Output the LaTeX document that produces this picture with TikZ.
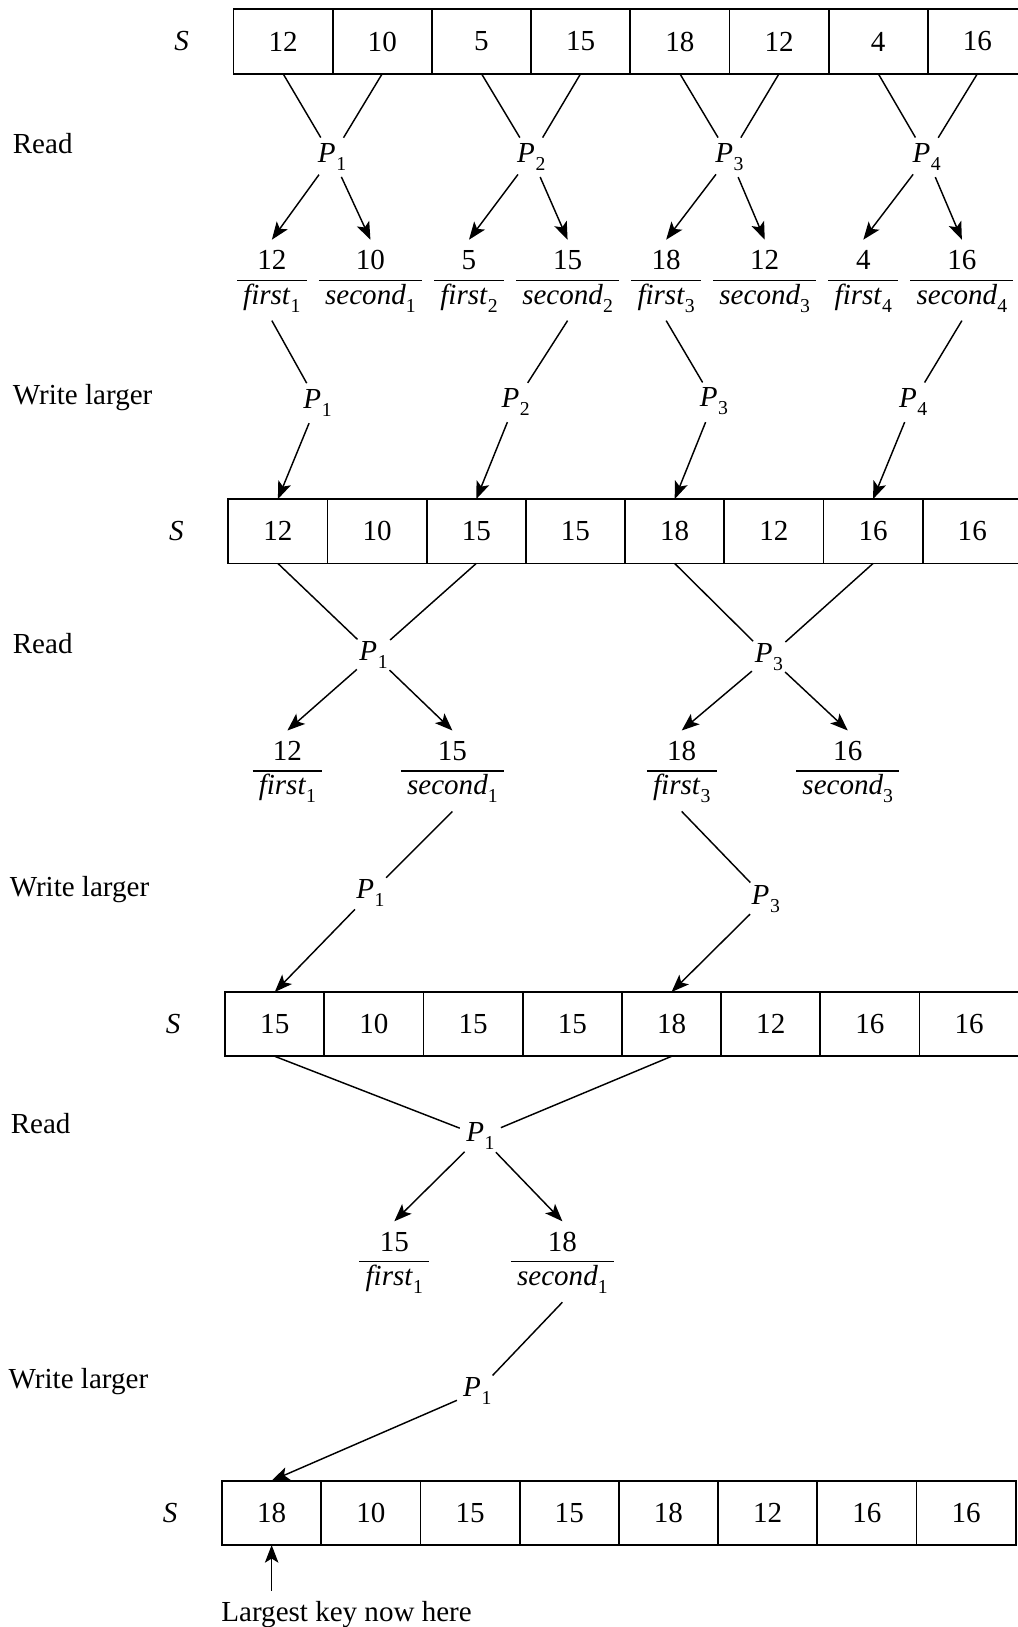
\documentclass[tikz,border=0pt]{standalone}
\usepackage{fontspec}
\setmainfont{Liberation Serif}
\usetikzlibrary{positioning, arrows.meta}
\newcommand{\lowidx}[1]{\raisebox{-0.6ex}{\fontsize{9.5}{9.5}\selectfont #1}}
\newcommand{\pname}[1]{\textit{P}\kern.3pt\lowidx{#1}}
\newcommand{\keyval}[3]{\begin{tabular}{@{\hspace{3pt}}c@{\hspace{3pt}}}#1\\\hline\textit{#2}\lowidx{#3}\end{tabular}}

\begin{document}
\begin{tikzpicture}[x=0.5pt, y=-0.5pt,
      font=\fontsize{14}{16}\selectfont,
      cell/.style={draw, line width=.9pt, minimum width=47.8pt,
                   minimum height=31pt, inner sep=0pt, outer sep=0pt},
      proc/.style={circle, inner sep=0pt, minimum size=21pt},
      key/.style={inner sep=3pt},
      phase/.style={anchor=west, inner sep=0pt},
      link/.style={line width=.7pt},
      push/.style={link, -{Stealth[length=8.5pt, width=6.5pt, inset=2pt]}},
      node distance=0pt]
    \useasboundingbox (0,0) rectangle (981,1568);
    \setlength{\arrayrulewidth}{.6pt}

    % array S, four times
    \node[cell, anchor=north west] (a1c1) at (225,9) {12};
    \node[cell, right=of a1c1] (a1c2) {10};
    \node[cell, right=of a1c2] (a1c3) {5};
    \node[cell, right=of a1c3] (a1c4) {15};
    \node[cell, right=of a1c4] (a1c5) {18};
    \node[cell, right=of a1c5] (a1c6) {12};
    \node[cell, right=of a1c6] (a1c7) {4};
    \node[cell, right=of a1c7] (a1c8) {16};
    \node[left=18pt of a1c1] (s1) {\textit{S}};

    \node[cell, anchor=north west] (a2c1) at (220,481) {12};
    \node[cell, right=of a2c1] (a2c2) {10};
    \node[cell, right=of a2c2] (a2c3) {15};
    \node[cell, right=of a2c3] (a2c4) {15};
    \node[cell, right=of a2c4] (a2c5) {18};
    \node[cell, right=of a2c5] (a2c6) {12};
    \node[cell, right=of a2c6] (a2c7) {16};
    \node[cell, right=of a2c7] (a2c8) {16};
    \node[left=18pt of a2c1] (s2) {\textit{S}};

    \node[cell, anchor=north west] (a3c1) at (217,956) {15};
    \node[cell, right=of a3c1] (a3c2) {10};
    \node[cell, right=of a3c2] (a3c3) {15};
    \node[cell, right=of a3c3] (a3c4) {15};
    \node[cell, right=of a3c4] (a3c5) {18};
    \node[cell, right=of a3c5] (a3c6) {12};
    \node[cell, right=of a3c6] (a3c7) {16};
    \node[cell, right=of a3c7] (a3c8) {16};
    \node[left=18pt of a3c1] (s3) {\textit{S}};

    \node[cell, anchor=north west] (a4c1) at (214,1427) {18};
    \node[cell, right=of a4c1] (a4c2) {10};
    \node[cell, right=of a4c2] (a4c3) {15};
    \node[cell, right=of a4c3] (a4c4) {15};
    \node[cell, right=of a4c4] (a4c5) {18};
    \node[cell, right=of a4c5] (a4c6) {12};
    \node[cell, right=of a4c6] (a4c7) {16};
    \node[cell, right=of a4c7] (a4c8) {16};
    \node[left=18pt of a4c1] (s4) {\textit{S}};

    % phases
    \node[phase] (read1)  at (12,138)  {Read};
    \node[phase] (write1) at (12,383)  {Write larger};
    \node[phase] (read2)  at (12,620)  {Read};
    \node[phase] (write2) at (9,857)   {Write larger};
    \node[phase] (read3)  at (10,1083) {Read};
    \node[phase] (write3) at (8,1331)  {Write larger};

    % processors
    \node[proc] (r1p1) at (320,151) {\pname{1}};
    \node[proc] (r1p2) at (512,151) {\pname{2}};
    \node[proc] (r1p3) at (703,151) {\pname{3}};
    \node[proc] (r1p4) at (893,151) {\pname{4}};
    \node[proc] (w1p1) at (306,388) {\pname{1}};
    \node[proc] (w1p2) at (497,387) {\pname{2}};
    \node[proc] (w1p3) at (688,387) {\pname{3}};
    \node[proc] (w1p4) at (880,387) {\pname{4}};
    \node[proc] (r2p1) at (360,631) {\pname{1}};
    \node[proc] (r2p3) at (741,633) {\pname{3}};
    \node[proc] (w2p1) at (357,861) {\pname{1}};
    \node[proc] (w2p3) at (738,866) {\pname{3}};
    \node[proc] (r3p1) at (463,1095) {\pname{1}};
    \node[proc] (w3p1) at (460,1341) {\pname{1}};

    % local keys
    \node[key] (k1f1) at (262,270) {\keyval{12}{first}{1}};
    \node[key] (k1s1) at (357,270) {\keyval{10}{second}{1}};
    \node[key] (k1f2) at (452,270) {\keyval{5}{first}{2}};
    \node[key] (k1s2) at (547,270) {\keyval{15}{second}{2}};
    \node[key] (k1f3) at (642,270) {\keyval{18}{first}{3}};
    \node[key] (k1s3) at (737,270) {\keyval{12}{second}{3}};
    \node[key] (k1f4) at (832,270) {\keyval{4}{first}{4}};
    \node[key] (k1s4) at (927,270) {\keyval{16}{second}{4}};
    \node[key] (k2f1) at (277,743) {\keyval{12}{first}{1}};
    \node[key] (k2s1) at (436,743) {\keyval{15}{second}{1}};
    \node[key] (k2f3) at (657,743) {\keyval{18}{first}{3}};
    \node[key] (k2s3) at (817,743) {\keyval{16}{second}{3}};
    \node[key] (k3f1) at (380,1216) {\keyval{15}{first}{1}};
    \node[key] (k3s1) at (542,1216) {\keyval{18}{second}{1}};

    \node[phase] (note) at (213,1556) {Largest key now here};

    % read 1
    \draw[link] (a1c1.south) -- (r1p1);
    \draw[link] (a1c2.south) -- (r1p1);
    \draw[link] (a1c3.south) -- (r1p2);
    \draw[link] (a1c4.south) -- (r1p2);
    \draw[link] (a1c5.south) -- (r1p3);
    \draw[link] (a1c6.south) -- (r1p3);
    \draw[link] (a1c7.south) -- (r1p4);
    \draw[link] (a1c8.south) -- (r1p4);
    \draw[push] (r1p1) -- (k1f1.north);
    \draw[push] (r1p1) -- (k1s1.north);
    \draw[push] (r1p2) -- (k1f2.north);
    \draw[push] (r1p2) -- (k1s2.north);
    \draw[push] (r1p3) -- (k1f3.north);
    \draw[push] (r1p3) -- (k1s3.north);
    \draw[push] (r1p4) -- (k1f4.north);
    \draw[push] (r1p4) -- (k1s4.north);

    % write 1
    \draw[link] (k1f1.south) -- (w1p1);
    \draw[link] (k1s2.south) -- (w1p2);
    \draw[link] (k1f3.south) -- (w1p3);
    \draw[link] (k1s4.south) -- (w1p4);
    \draw[push] (w1p1) -- (a2c1.north);
    \draw[push] (w1p2) -- (a2c3.north);
    \draw[push] (w1p3) -- (a2c5.north);
    \draw[push] (w1p4) -- (a2c7.north);

    % read 2
    \draw[link] (a2c1.south) -- (r2p1);
    \draw[link] (a2c3.south) -- (r2p1);
    \draw[link] (a2c5.south) -- (r2p3);
    \draw[link] (a2c7.south) -- (r2p3);
    \draw[push] (r2p1) -- (k2f1.north);
    \draw[push] (r2p1) -- (k2s1.north);
    \draw[push] (r2p3) -- (k2f3.north);
    \draw[push] (r2p3) -- (k2s3.north);

    % write 2
    \draw[link] (k2s1.south) -- (w2p1);
    \draw[link] (k2f3.south) -- (w2p3);
    \draw[push] (w2p1) -- (a3c1.north);
    \draw[push] (w2p3) -- (a3c5.north);

    % read 3, write 3
    \draw[link] (a3c1.south) -- (r3p1);
    \draw[link] (a3c5.south) -- (r3p1);
    \draw[push] (r3p1) -- (k3f1.north);
    \draw[push] (r3p1) -- (k3s1.north);
    \draw[link] (k3s1.south) -- (w3p1);
    \draw[push] (w3p1) -- (a4c1.north);

    \draw[push] ([yshift=5pt]note.north -| a4c1) -- (a4c1.south);
  \end{tikzpicture}
\end{document}
